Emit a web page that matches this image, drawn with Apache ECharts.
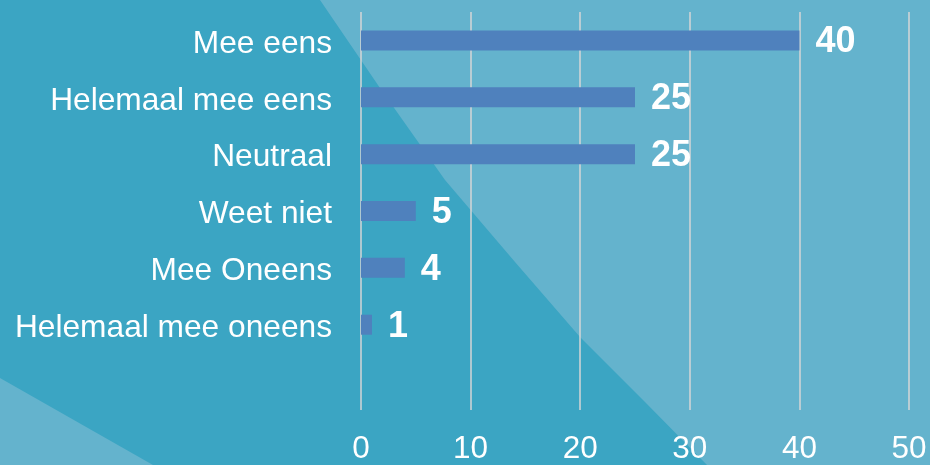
<!DOCTYPE html>
<html>
<head>
<meta charset="utf-8">
<script src="https://cdn.jsdelivr.net/npm/echarts@6/dist/echarts.min.js"></script>
<style>
html,body{margin:0;padding:0;background:#3BA5C3;}
#c{width:930px;height:465px;}
</style>
</head>
<body>
<div id="c"></div>
<script>
var categories = ['Mee eens', 'Helemaal mee eens', 'Neutraal', 'Weet niet', 'Mee Oneens', 'Helemaal mee oneens', ''];
var values = [40, 25, 25, 5, 4, 1, null];
var xTicks = [0, 10, 20, 30, 40, 50];

var chart = echarts.init(document.getElementById('c'));
var font = "'Liberation Sans', Arial, sans-serif";
chart.setOption({
  backgroundColor: '#3BA5C3',
  animation: false,
  graphic: [
    {
      type: 'polygon', z: -10, silent: true,
      shape: { points: [[320,0],[380,88],[445,180],[515,262],[580,337],[645,402],[707,465],[930,465],[930,0]] },
      style: { fill: '#64B3CD' }
    },
    {
      type: 'polygon', z: -10, silent: true,
      shape: { points: [[0,378],[153,465],[0,465]] },
      style: { fill: '#64B3CD' }
    }
  ],
  grid: { left: 361, right: 21, top: 12, bottom: 52, containLabel: false },
  xAxis: {
    type: 'value', min: 0, max: 50, interval: 10,
    axisLine: { show: false }, axisTick: { show: false },
    splitLine: { show: true, lineStyle: { color: '#D6D6D6', width: 1.5 } },
    axisLabel: {
      color: '#FFFFFF', fontSize: 31.5, fontFamily: font, margin: 39, verticalAlign: 'middle',
      formatter: function (v) { return xTicks.indexOf(v) >= 0 ? String(v) : ''; }
    }
  },
  yAxis: {
    type: 'category', data: categories, inverse: true,
    axisLine: { show: false }, axisTick: { show: false },
    splitLine: { show: false },
    axisLabel: {
      color: '#FFFFFF', fontSize: 31.7, fontFamily: font, margin: 29, interval: 0,
      formatter: function (v) { return v ? '{a|' + v + '}' : ''; },
      rich: { a: { color: '#FFFFFF', fontSize: 31.7, fontFamily: font, padding: [7, 0, 0, 0] } }
    }
  },
  series: [{
    type: 'bar', data: values, barWidth: 20,
    itemStyle: { color: '#4F81BD' },
    label: {
      show: true, position: 'right', distance: 16, offset: [0, 2],
      color: '#FFFFFF', fontSize: 36, fontWeight: 'bold', fontFamily: font
    }
  }]
});
</script>
</body>
</html>
